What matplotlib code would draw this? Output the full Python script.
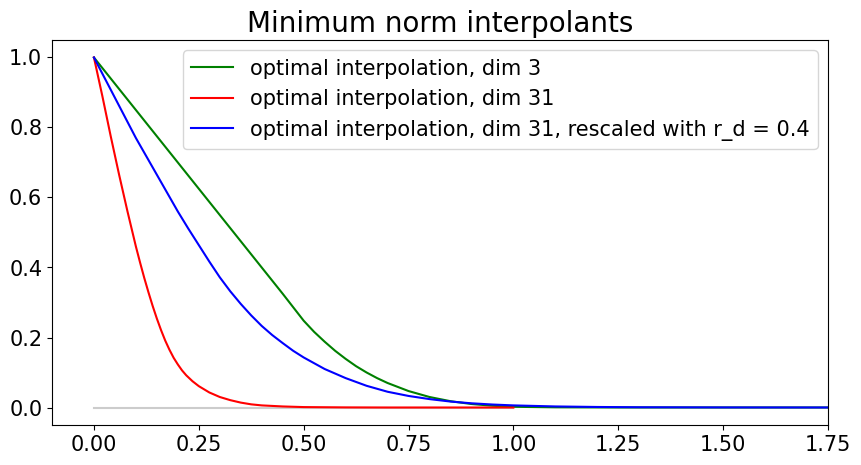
import matplotlib
matplotlib.use("Agg")
import matplotlib.pyplot as plt

# green: optimal interpolation, dim 3
x_dim3 = [0.0, 0.1, 0.2, 0.3, 0.4, 0.45, 0.5, 0.525, 0.55, 0.575, 0.6, 0.625,
          0.65, 0.675, 0.7, 0.75, 0.8, 0.85, 0.9, 0.95, 1.0, 1.1, 1.25, 1.5,
          1.75, 2.0]
y_dim3 = [1.0, 0.85, 0.70, 0.55, 0.40, 0.325, 0.248, 0.216, 0.188, 0.162, 0.139,
          0.118, 0.100, 0.084, 0.070, 0.047, 0.030, 0.018, 0.010, 0.005, 0.002,
          0.0005, 0.0, 0.0, 0.0, 0.0]

# red: optimal interpolation, dim 31
x_dim31 = [0.0, 0.02, 0.04, 0.06, 0.08, 0.1, 0.11, 0.12, 0.13, 0.14, 0.15, 0.16,
           0.17, 0.18, 0.19, 0.2, 0.21, 0.22, 0.235, 0.25, 0.275, 0.3, 0.325,
           0.35, 0.375, 0.4, 0.45, 0.5, 0.6, 0.7, 0.85, 1.0]
y_dim31 = [1.0, 0.89, 0.775, 0.665, 0.56, 0.46, 0.414, 0.37, 0.329, 0.29, 0.254,
           0.221, 0.191, 0.165, 0.142, 0.123, 0.106, 0.092, 0.075, 0.061, 0.043,
           0.030, 0.021, 0.014, 0.009, 0.006, 0.003, 0.0012, 0.0003, 0.0, 0.0, 0.0]

# blue: optimal interpolation, dim 31, rescaled with r_d = 0.4
x_resc = [0.0, 0.05, 0.1, 0.15, 0.2, 0.225, 0.25, 0.275, 0.3, 0.325, 0.35, 0.375,
          0.4, 0.425, 0.45, 0.475, 0.5, 0.55, 0.6, 0.65, 0.7, 0.75, 0.8, 0.85,
          0.9, 0.95, 1.0, 1.1, 1.2, 1.3, 1.5, 1.75, 2.0]
y_resc = [1.0, 0.885, 0.77, 0.665, 0.56, 0.511, 0.464, 0.417, 0.372, 0.332, 0.296,
          0.263, 0.233, 0.207, 0.184, 0.162, 0.143, 0.110, 0.084, 0.062, 0.045,
          0.033, 0.024, 0.017, 0.012, 0.0085, 0.006, 0.003, 0.0015, 0.0007,
          0.0002, 0.0, 0.0]

# grey zero reference
x_zero = [0.0, 1.0]
y_zero = [0.0, 0.0]

labels = ["optimal interpolation, dim 3",
          "optimal interpolation, dim 31",
          "optimal interpolation, dim 31, rescaled with r_d = 0.4"]
title = "Minimum norm interpolants"
xticks = [0.0, 0.25, 0.5, 0.75, 1.0, 1.25, 1.5, 1.75]
yticks = [0.0, 0.2, 0.4, 0.6, 0.8, 1.0]

fig = plt.figure(figsize=(8.61, 4.65), dpi=100)
ax = fig.add_axes([52 / 861, 1 - 425 / 465, (828 - 52) / 861, (425 - 40) / 465])

ax.plot(x_zero, y_zero, color="#cccccc", lw=1.5)
ax.plot(x_dim3, y_dim3, color="green", lw=1.5, label=labels[0])
ax.plot(x_dim31, y_dim31, color="red", lw=1.5, label=labels[1])
ax.plot(x_resc, y_resc, color="blue", lw=1.5, label=labels[2])

ax.set_xlim(-0.1, 1.75)
ax.set_ylim(-0.05, 1.05)
ax.set_xticks(xticks)
ax.set_yticks(yticks)
ax.tick_params(labelsize=15)
ax.set_title(title, fontsize=20)
ax.legend(loc="upper right", fontsize=15)

fig.savefig("out.png", dpi=100)
